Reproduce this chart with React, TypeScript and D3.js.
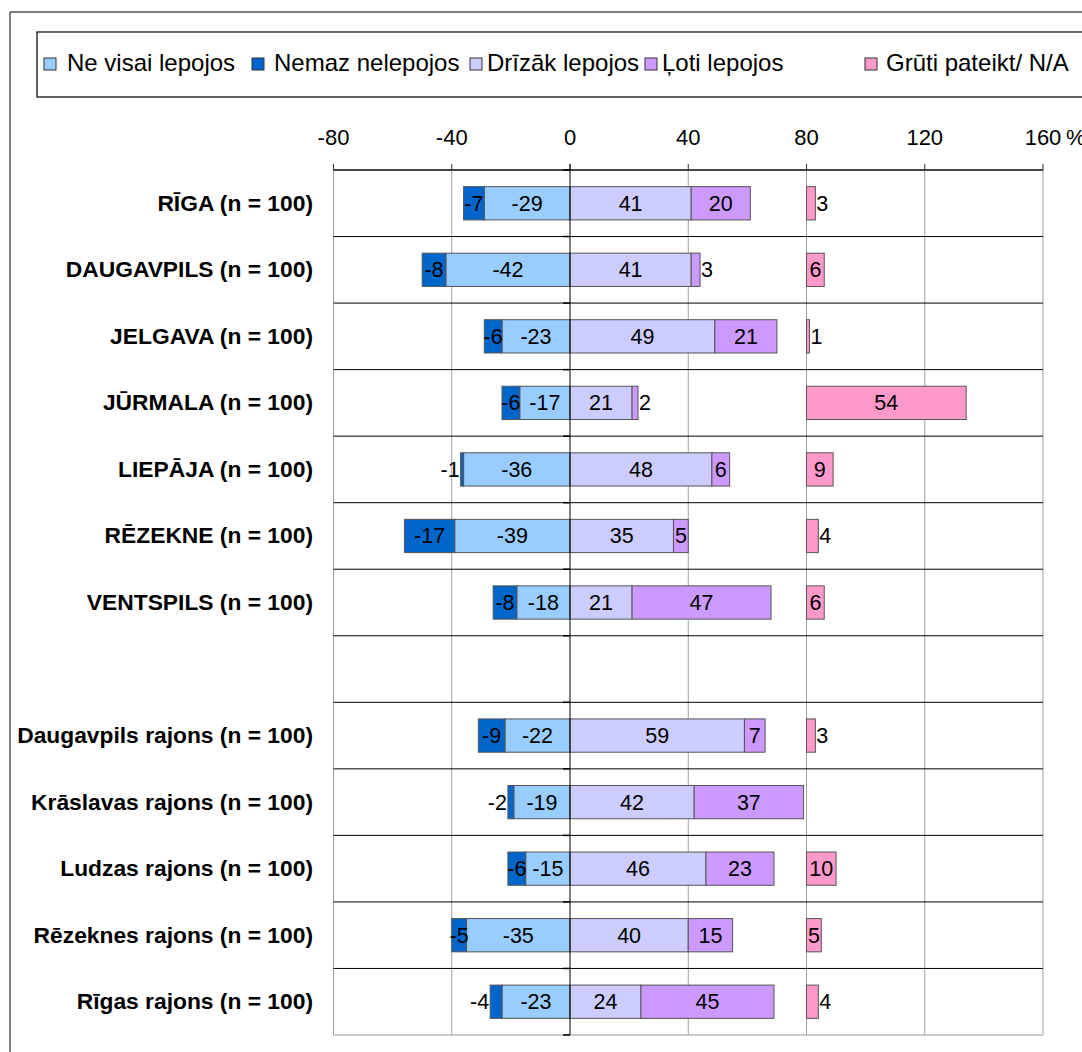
import React from "react";
import * as d3 from "d3";

const categories = [
  "RĪGA (n = 100)",
  "DAUGAVPILS (n = 100)",
  "JELGAVA (n = 100)",
  "JŪRMALA (n = 100)",
  "LIEPĀJA (n = 100)",
  "RĒZEKNE (n = 100)",
  "VENTSPILS (n = 100)",
  "",
  "Daugavpils rajons (n = 100)",
  "Krāslavas rajons (n = 100)",
  "Ludzas rajons (n = 100)",
  "Rēzeknes rajons (n = 100)",
  "Rīgas rajons (n = 100)",
];

const neVisai = [-29, -42, -23, -17, -36, -39, -18, null, -22, -19, -15, -35, -23];
const nemaz = [-7, -8, -6, -6, -1, -17, -8, null, -9, -2, -6, -5, -4];
const drizak = [41, 41, 49, 21, 48, 35, 21, null, 59, 42, 46, 40, 24];
const loti = [20, 3, 21, 2, 6, 5, 47, null, 7, 37, 23, 15, 45];
const gruti = [3, 6, 1, 54, 9, 4, 6, null, 3, null, 10, 5, 4];

const tickValues = [-80, -40, 0, 40, 80, 120, 160];
const naOffset = 80;

const legendNames = ["Ne visai lepojos", "Nemaz nelepojos", "Drīzāk lepojos", "Ļoti lepojos", "Grūti pateikt/ N/A"];
const colors = ["#99CCFF", "#0066CC", "#CCCCFF", "#CC99FF", "#FF99CC"];

const W = 1082;
const H = 1052;
const FONT = "'Liberation Sans', Arial, sans-serif";

export default function App() {
  const x = d3.scaleLinear().domain([-80, 160]).range([333.5, 1043]);
  const y = d3
    .scaleBand<string>()
    .domain(categories.map((c, i) => String(i)))
    .range([170, 1035])
    .paddingInner(0.5)
    .paddingOuter(0.25);
  const step = y.step();
  const bw = y.bandwidth();
  const top = 170;
  const bottom = 1035;

  type Seg = { x0: number; x1: number; v: number; color: string; key: string };
  const segs: Seg[] = [];
  categories.forEach((c, i) => {
    const a = neVisai[i];
    const b = nemaz[i];
    const d = drizak[i];
    const l = loti[i];
    const g = gruti[i];
    if (a != null) segs.push({ x0: 0, x1: a, v: a, color: colors[0], key: `a${i}` });
    if (b != null && a != null) segs.push({ x0: a, x1: a + b, v: b, color: colors[1], key: `b${i}` });
    if (d != null) segs.push({ x0: 0, x1: d, v: d, color: colors[2], key: `d${i}` });
    if (l != null && d != null) segs.push({ x0: d, x1: d + l, v: l, color: colors[3], key: `l${i}` });
    if (g != null) segs.push({ x0: naOffset, x1: naOffset + g, v: g, color: colors[4], key: `g${i}` });
  });

  const rowOf = (key: string) => key.slice(1);

  const legendTextX = [67, 274, 487, 662, 886];
  const legendBoxX = [44, 252, 470, 645, 865];

  const boundaries = d3.range(categories.length + 1).map((k) => top + k * step);

  return (
    <svg
      width={W}
      height={H}
      style={{ position: "absolute", left: 0, top: 0, background: "#fff" }}
      fontFamily={FONT}
    >
      <rect x={0} y={0} width={W} height={H} fill="#fff" />
      {/* outer frame */}
      <line x1={10} y1={12} x2={W + 5} y2={12} stroke="#555" strokeWidth={1.5} />
      <line x1={10} y1={12} x2={10} y2={H + 5} stroke="#555" strokeWidth={1.5} />

      {/* legend */}
      <rect x={37} y={32} width={W} height={65} fill="#fff" stroke="#000" strokeWidth={1.2} />
      {legendNames.map((n, i) => (
        <g key={n}>
          <rect x={legendBoxX[i]} y={58} width={12} height={12} fill={colors[i]} stroke="#333" strokeWidth={1} />
          <text x={legendTextX[i]} y={71} fontSize={24} fill="#000">
            {n}
          </text>
        </g>
      ))}

      {/* vertical gridlines */}
      {tickValues
        .filter((t) => t !== 0)
        .map((t) => (
          <line key={`vg${t}`} x1={x(t)} x2={x(t)} y1={top} y2={bottom} stroke="#a0a0a0" strokeWidth={1} />
        ))}
      {/* horizontal gridlines */}
      {boundaries.map((b, k) => (
        <line
          key={`hg${k}`}
          x1={x(-80)}
          x2={x(160)}
          y1={b}
          y2={b}
          stroke={k === boundaries.length - 1 ? "#999" : "#000"}
          strokeWidth={1}
        />
      ))}

      {/* top axis */}
      <line x1={x(-80)} x2={x(160)} y1={top} y2={top} stroke="#333" strokeWidth={1.5} />
      {tickValues.map((t) => (
        <g key={`t${t}`}>
          <line x1={x(t)} x2={x(t)} y1={top - 6} y2={top} stroke="#333" strokeWidth={1} />
          <text x={x(t)} y={145} fontSize={22} textAnchor="middle" fill="#000">
            {t}
          </text>
        </g>
      ))}
      <text x={x(160) + 23} y={145} fontSize={22} fill="#000">
        %
      </text>

      {/* bars */}
      {segs.map((s) => {
        const i = rowOf(s.key);
        const xa = x(Math.min(s.x0, s.x1));
        const xb = x(Math.max(s.x0, s.x1));
        return (
          <rect
            key={s.key}
            x={xa}
            y={y(i)!}
            width={xb - xa}
            height={bw}
            fill={s.color}
            stroke="#555"
            strokeWidth={1}
          />
        );
      })}

      {/* zero axis */}
      <line x1={x(0)} x2={x(0)} y1={top - 6} y2={bottom} stroke="#000" strokeWidth={1} />
      {boundaries.map((b, k) => (
        <line key={`zt${k}`} x1={x(0) - 7} x2={x(0)} y1={b} y2={b} stroke="#000" strokeWidth={1.5} />
      ))}

      {/* bar labels */}
      {segs.map((s) => {
        const i = rowOf(s.key);
        const xa = x(s.x0);
        const xb = x(s.x1);
        const w = Math.abs(xb - xa);
        const cy = y(i)! + bw / 2 + 7.5;
        let tx = (xa + xb) / 2;
        let anchor: "middle" | "start" | "end" = "middle";
        if (w < 13) {
          if (s.v >= 0) {
            tx = xb + 1;
            anchor = "start";
          } else {
            tx = xb - 1;
            anchor = "end";
          }
        }
        return (
          <text key={`lb${s.key}`} x={tx} y={cy} fontSize={21.5} textAnchor={anchor} fill="#000">
            {s.v}
          </text>
        );
      })}

      {/* category labels */}
      {categories.map((c, i) =>
        c ? (
          <text
            key={`c${i}`}
            x={313}
            y={y(String(i))! + bw / 2 + 7.5}
            fontSize={22.8}
            fontWeight="bold"
            textAnchor="end"
            fill="#000"
          >
            {c}
          </text>
        ) : null
      )}
    </svg>
  );
}
